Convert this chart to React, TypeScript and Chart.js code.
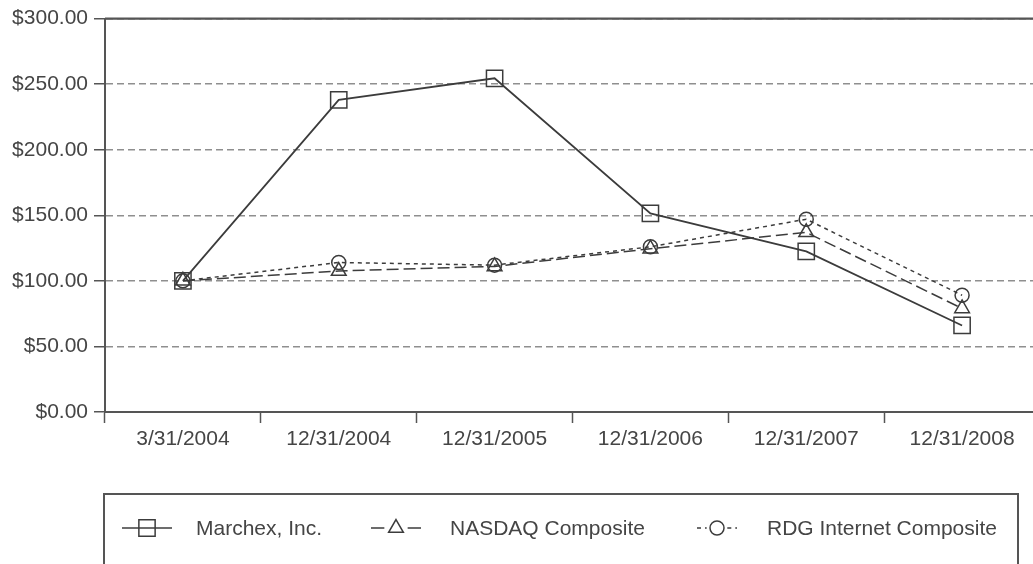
import React, { useEffect, useRef } from "react";
import { Chart, registerables } from "chart.js";

Chart.register(...registerables);

const categories = ["3/31/2004", "12/31/2004", "12/31/2005", "12/31/2006", "12/31/2007", "12/31/2008"];
const marchexValues = [100, 238, 254.5, 151.5, 122.5, 66];
const nasdaqValues = [100, 107.5, 111, 124.5, 137, 79];
const rdgValues = [100, 114, 112, 126, 147, 89];
const seriesNames = ["Marchex, Inc.", "NASDAQ Composite", "RDG Internet Composite"];
const yMin = 0;
const yMax = 300;
const yStep = 50;

const FONT = "'Liberation Sans', Arial, Helvetica, sans-serif";
const INK = "#3c3c3c";
const TEXT = "#454545";

function drawMarker(ctx: CanvasRenderingContext2D, style: string, x: number, y: number, r: number) {
  ctx.beginPath();
  if (style === "rect") {
    const s = Math.SQRT1_2 * r;
    ctx.rect(x - s, y - s, 2 * s, 2 * s);
  } else if (style === "triangle") {
    for (let k = 0; k < 3; k++) {
      const a = (k * 2 * Math.PI) / 3;
      const px = x + Math.sin(a) * r;
      const py = y - Math.cos(a) * r;
      if (k === 0) ctx.moveTo(px, py);
      else ctx.lineTo(px, py);
    }
    ctx.closePath();
  } else {
    ctx.arc(x, y, r, 0, Math.PI * 2);
  }
  ctx.stroke();
}

const frameLegendPlugin = {
  id: "frameLegend",
  afterDraw(chart: any) {
    const ctx: CanvasRenderingContext2D = chart.ctx;
    const area = chart.chartArea;
    ctx.save();
    ctx.setLineDash([]);
    ctx.strokeStyle = "#555";
    ctx.lineWidth = 2.2;
    ctx.beginPath();
    ctx.moveTo(area.left, area.top);
    ctx.lineTo(area.right, area.top);
    ctx.stroke();

    ctx.lineWidth = 2;
    ctx.strokeRect(104, 494, 914, 200);

    const items = [
      { x0: 122, x1: 172, tx: 196 },
      { x0: 366, x1: 426, tx: 450 },
      { x0: 692, x1: 742, tx: 767 },
    ];
    const y = 528;
    chart.data.datasets.forEach((ds: any, i: number) => {
      const it = items[i];
      const cx = (it.x0 + it.x1) / 2;
      const r = ds.pointRadius;
      ctx.strokeStyle = ds.borderColor;
      ctx.lineWidth = 1.5;
      ctx.setLineDash(i === 1 ? [] : ds.borderDash || []);
      ctx.beginPath();
      if (i === 0) {
        ctx.moveTo(it.x0, y);
        ctx.lineTo(it.x1, y);
      } else {
        const gap = r * 0.9 + 4;
        ctx.moveTo(it.x0 + 5, y);
        ctx.lineTo(cx - gap, y);
        ctx.moveTo(cx + gap, y);
        ctx.lineTo(it.x1 - 5, y);
      }
      ctx.stroke();
      ctx.setLineDash([]);
      drawMarker(ctx, ds.pointStyle, cx, y, r);
      ctx.fillStyle = TEXT;
      ctx.font = `21px ${FONT}`;
      ctx.textBaseline = "middle";
      ctx.textAlign = "left";
      ctx.fillText(ds.label, it.tx, y + 1);
    });
    ctx.restore();
  },
};

export default function App() {
  const canvasRef = useRef<HTMLCanvasElement | null>(null);

  useEffect(() => {
    if (!canvasRef.current) return;
    const chart = new Chart(canvasRef.current, {
      type: "line",
      data: {
        labels: categories,
        datasets: [
          {
            label: seriesNames[0],
            data: marchexValues,
            borderColor: INK,
            borderWidth: 1.8,
            pointStyle: "rect",
            pointRadius: 11.5,
            pointBorderWidth: 1.5,
            pointBorderColor: INK,
            pointBackgroundColor: "rgba(0,0,0,0)",
            tension: 0,
            fill: false,
          },
          {
            label: seriesNames[1],
            data: nasdaqValues,
            borderColor: INK,
            borderWidth: 1.5,
            borderDash: [12, 5],
            pointStyle: "triangle",
            pointRadius: 8.5,
            pointBorderWidth: 1.5,
            pointBorderColor: INK,
            pointBackgroundColor: "rgba(0,0,0,0)",
            tension: 0,
            fill: false,
          },
          {
            label: seriesNames[2],
            data: rdgValues,
            borderColor: INK,
            borderWidth: 1.5,
            borderDash: [4, 4],
            pointStyle: "circle",
            pointRadius: 7,
            pointBorderWidth: 1.5,
            pointBorderColor: INK,
            pointBackgroundColor: "rgba(0,0,0,0)",
            tension: 0,
            fill: false,
          },
        ] as any,
      },
      options: {
        animation: false,
        responsive: false,
        devicePixelRatio: 1,
        layout: { padding: { top: 15, bottom: 107, left: 0, right: 0 } },
        plugins: {
          legend: { display: false },
          tooltip: { enabled: false },
        },
        scales: {
          x: {
            type: "category",
            offset: true,
            grid: {
              offset: true,
              drawOnChartArea: false,
              drawTicks: true,
              tickLength: 11,
              tickColor: "#555",
              tickWidth: 1.5,
            },
            border: { color: "#555", width: 2 },
            ticks: {
              color: TEXT,
              font: { family: FONT, size: 21 },
              padding: 4,
              maxRotation: 0,
              autoSkip: false,
            },
            afterFit: (scale: any) => {
              scale.height = 45;
            },
          },
          y: {
            min: yMin,
            max: yMax,
            grid: {
              color: "#8f8f8f",
              lineWidth: 1.5,
              drawTicks: true,
              tickLength: 11,
              tickColor: "#555",
              tickWidth: 1.5,
              tickBorderDash: [],
            },
            border: { color: "#555", width: 2, dash: [7, 4] },
            ticks: {
              stepSize: yStep,
              color: TEXT,
              font: { family: FONT, size: 21 },
              padding: 6,
              callback: (v: any) => "$" + Number(v).toFixed(2),
            },
            afterFit: (scale: any) => {
              scale.width = 105;
            },
          },
        },
      } as any,
      plugins: [frameLegendPlugin],
    });
    return () => chart.destroy();
  }, []);

  return (
    <div
      style={{
        position: "absolute",
        left: 0,
        top: 0,
        width: 1033,
        height: 564,
        overflow: "hidden",
        background: "#fff",
      }}
    >
      <canvas ref={canvasRef} width={1053} height={564} style={{ display: "block", width: 1053, height: 564 }} />
    </div>
  );
}
